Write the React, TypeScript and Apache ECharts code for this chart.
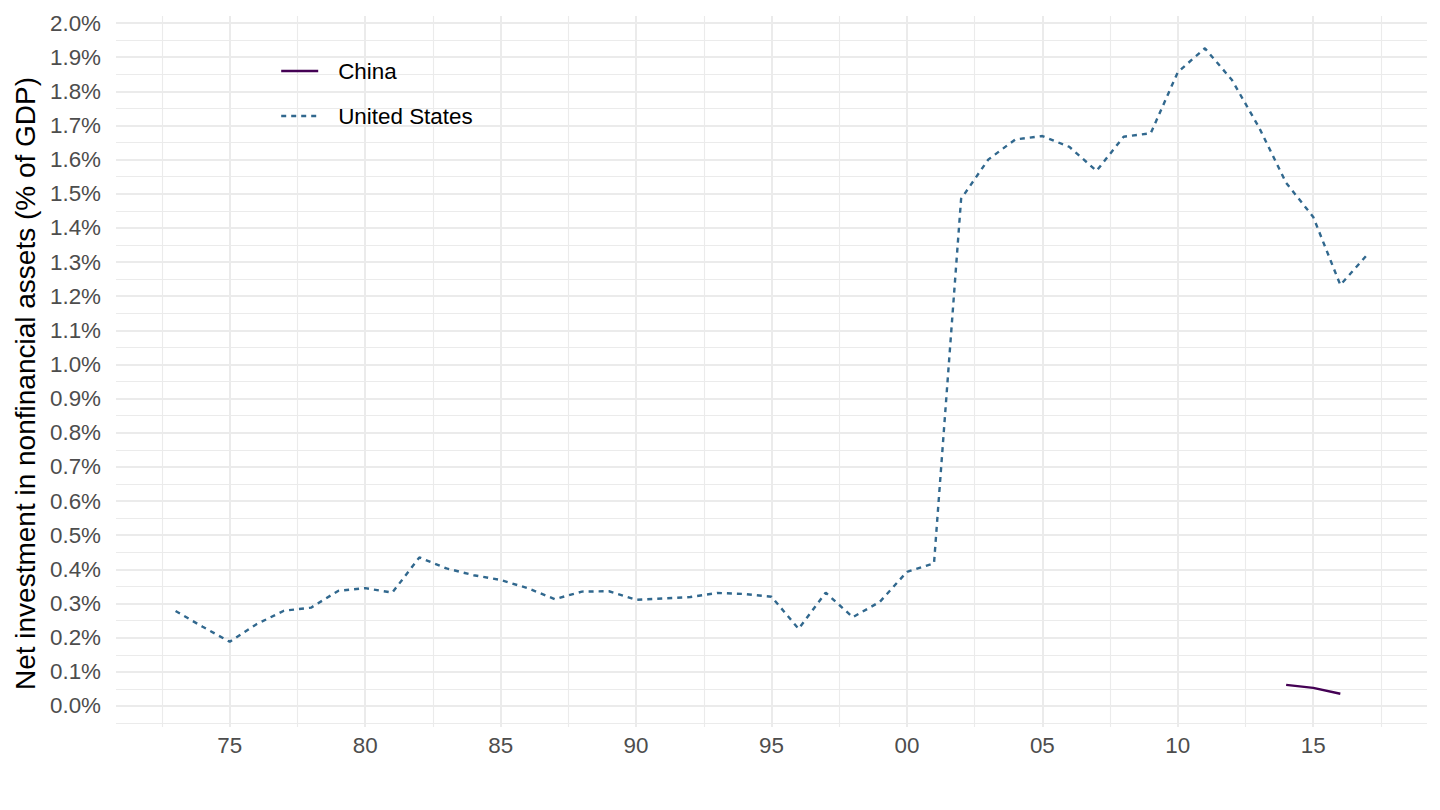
import React, { useEffect, useRef } from "react";
import * as echarts from "echarts";

const years: number[] = [
  1973, 1974, 1975, 1976, 1977, 1978, 1979, 1980, 1981, 1982, 1983, 1984, 1985, 1986, 1987,
  1988, 1989, 1990, 1991, 1992, 1993, 1994, 1995, 1996, 1997, 1998, 1999, 2000, 2001, 2002,
  2003, 2004, 2005, 2006, 2007, 2008, 2009, 2010, 2011, 2012, 2013, 2014, 2015, 2016, 2017,
];

const usValues: number[] = [
  0.278, 0.232, 0.188, 0.24, 0.279, 0.288, 0.337, 0.345, 0.332, 0.435, 0.403, 0.383, 0.369,
  0.345, 0.313, 0.335, 0.336, 0.311, 0.315, 0.319, 0.331, 0.328, 0.32, 0.226, 0.332, 0.26,
  0.305, 0.393, 0.418, 1.485, 1.6, 1.659, 1.669, 1.637, 1.567, 1.667, 1.677, 1.856, 1.926,
  1.833, 1.694, 1.532, 1.432, 1.233, 1.322,
];

const chinaYears: number[] = [2014, 2015, 2016];
const chinaValues: number[] = [0.062, 0.053, 0.036];

const xMajor: number[] = [1975, 1980, 1985, 1990, 1995, 2000, 2005, 2010, 2015];
const xMinor: number[] = [1972.5, 1977.5, 1982.5, 1987.5, 1992.5, 1997.5, 2002.5, 2007.5, 2012.5, 2017.5];
const yMajor: number[] = [
  0, 0.1, 0.2, 0.3, 0.4, 0.5, 0.6, 0.7, 0.8, 0.9, 1.0, 1.1, 1.2, 1.3, 1.4, 1.5, 1.6, 1.7, 1.8,
  1.9, 2.0,
];
const yMinor: number[] = [
  -0.05, 0.05, 0.15, 0.25, 0.35, 0.45, 0.55, 0.65, 0.75, 0.85, 0.95, 1.05, 1.15, 1.25, 1.35,
  1.45, 1.55, 1.65, 1.75, 1.85, 1.95,
];

const X_MIN = 1970.8;
const X_MAX = 2019.2;
const Y_MIN = -0.0615;
const Y_MAX = 2.0205;

const FONT = "'Liberation Sans', Arial, Helvetica, sans-serif";
const GRID_COLOR = "#EBEBEB";

export default function App() {
  const ref = useRef<HTMLDivElement>(null);

  useEffect(() => {
    if (!ref.current) return;
    const chart = echarts.init(ref.current, undefined, { renderer: "svg" });

    const vLine = (x: number, w: number) => [
      { coord: [x, Y_MIN], lineStyle: { width: w, color: GRID_COLOR, type: "solid" } },
      { coord: [x, Y_MAX] },
    ];
    const hLine = (y: number, w: number) => [
      { coord: [X_MIN, y], lineStyle: { width: w, color: GRID_COLOR, type: "solid" } },
      { coord: [X_MAX, y] },
    ];

    const gridLines = [
      ...xMinor.map((x) => vLine(x, 1.1)),
      ...yMinor.map((y) => hLine(y, 1.1)),
      ...xMajor.map((x) => vLine(x, 2)),
      ...yMajor.map((y) => hLine(y, 2)),
    ];

    const option: any = {
      animation: false,
      backgroundColor: "#FFFFFF",
      grid: { left: 116, right: 13, top: 16, bottom: 83, containLabel: false },
      xAxis: {
        type: "value",
        min: X_MIN,
        max: X_MAX,
        axisLine: { show: false },
        axisTick: { show: false },
        splitLine: { show: false },
        axisLabel: {
          customValues: xMajor,
          margin: 7,
          color: "#4D4D4D",
          fontSize: 22.4,
          fontFamily: FONT,
          formatter: (v: number) => String(Math.round(v) % 100).padStart(2, "0"),
        },
      },
      yAxis: {
        type: "value",
        min: Y_MIN,
        max: Y_MAX,
        name: "Net investment in nonfinancial assets (% of GDP)",
        nameLocation: "middle",
        nameGap: 74,
        nameTextStyle: {
          color: "#000000",
          fontSize: 28,
          fontFamily: FONT,
          padding: [0, 24, 0, 0],
        },
        axisLine: { show: false },
        axisTick: { show: false },
        splitLine: { show: false },
        axisLabel: {
          customValues: yMajor,
          margin: 15,
          color: "#4D4D4D",
          fontSize: 22.4,
          fontFamily: FONT,
          formatter: (v: number) => v.toFixed(1) + "%",
        },
      },
      legend: {
        orient: "vertical",
        left: 280,
        top: 59,
        padding: 0,
        itemWidth: 37,
        itemHeight: 14,
        itemGap: 21,
        selectedMode: false,
        itemStyle: { opacity: 0 },
        lineStyle: { width: 2.4 },
        textStyle: {
          color: "#000000",
          fontSize: 22.4,
          fontFamily: FONT,
          lineHeight: 24,
          padding: [0, 0, 0, 15],
        },
        data: ["China", "United States"],
      },
      series: [
        {
          name: "China",
          type: "line",
          data: chinaYears.map((y, i) => [y, chinaValues[i]]),
          symbol: "none",
          z: 3,
          lineStyle: { color: "#440154", width: 2.4, type: "solid" },
          itemStyle: { color: "#440154" },
        },
        {
          name: "United States",
          type: "line",
          data: years.map((y, i) => [y, usValues[i]]),
          symbol: "none",
          z: 3,
          lineStyle: { color: "#31688E", width: 2.4, type: [5, 5] },
          itemStyle: { color: "#31688E" },
          markLine: {
            silent: true,
            z: 1,
            symbol: ["none", "none"],
            label: { show: false },
            emphasis: { disabled: true },
            data: gridLines,
          },
        },
      ],
    };

    chart.setOption(option);
    return () => chart.dispose();
  }, []);

  return (
    <div
      ref={ref}
      style={{ position: "fixed", left: 0, top: 0, width: 1440, height: 810 }}
    />
  );
}
